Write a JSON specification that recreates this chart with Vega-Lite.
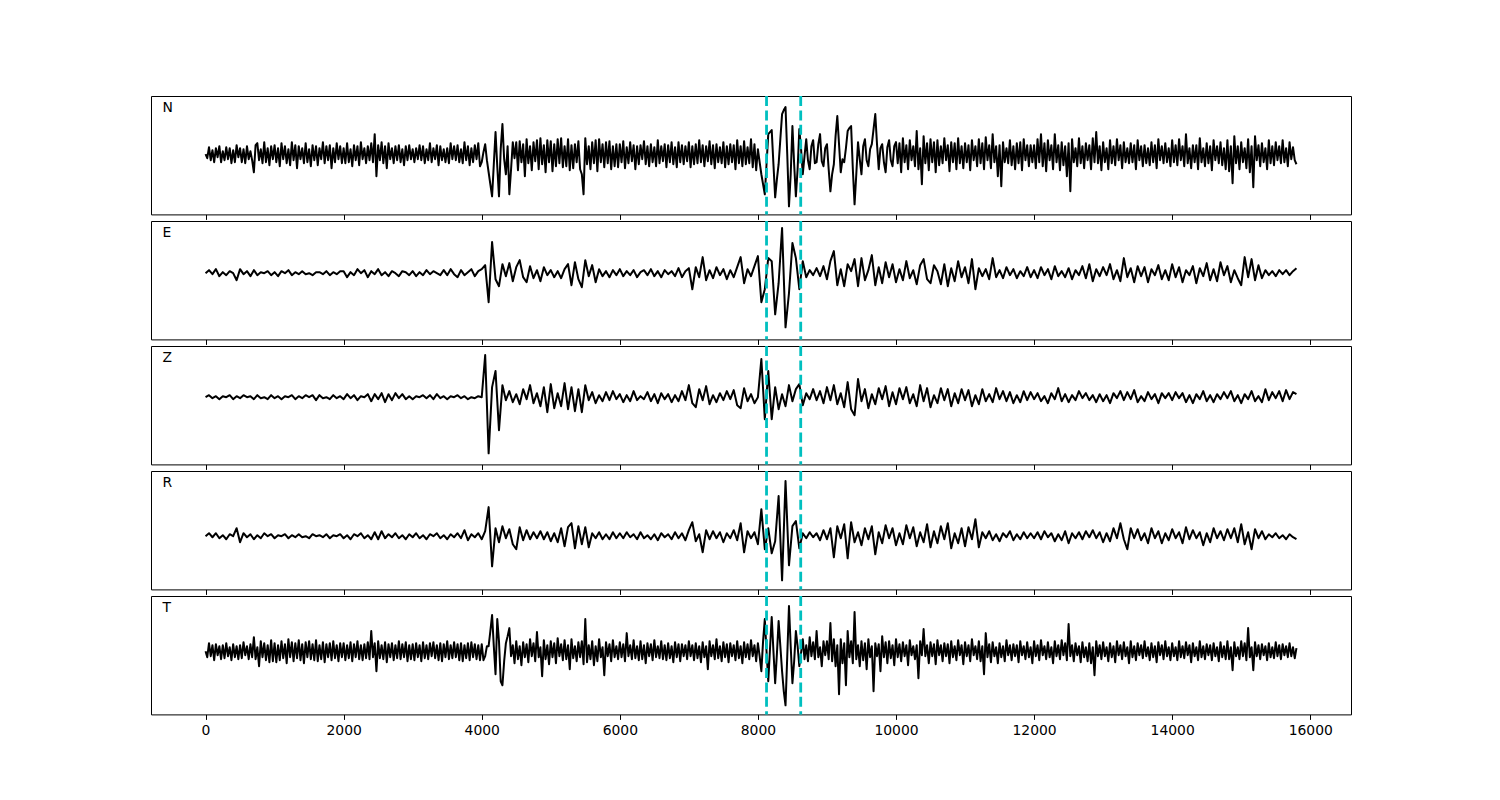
{
"$schema": "https://vega.github.io/schema/vega-lite/v6.json",
"padding": {"left": 150, "top": 94, "right": 0, "bottom": 0},
"background": "white",
"datasets": {
"picks": [{"pick": 8125}, {"pick": 8620}],
"wave": [
{"t":0,"N":0,"E":0,"Z":0,"R":0,"T":0},
{"t":50,"N":7,"E":3,"Z":2,"R":3,"T":8},
{"t":100,"N":4,"E":-1,"Z":-1,"R":-1,"T":6},
{"t":150,"N":6,"E":4,"Z":1,"R":3,"T":7},
{"t":200,"N":8,"E":-3,"Z":-2,"R":-2,"T":5},
{"t":250,"N":3,"E":1,"Z":1,"R":1,"T":6},
{"t":300,"N":7,"E":-2,"Z":0,"R":-3,"T":8},
{"t":350,"N":6,"E":2,"Z":2,"R":2,"T":4},
{"t":400,"N":4,"E":0,"Z":-2,"R":0,"T":7},
{"t":450,"N":9,"E":-7,"Z":1,"R":8,"T":5},
{"t":500,"N":6,"E":4,"Z":-1,"R":-6,"T":6},
{"t":550,"N":5,"E":-1,"Z":2,"R":3,"T":9},
{"t":600,"N":8,"E":2,"Z":0,"R":-1,"T":5},
{"t":650,"N":3,"E":-3,"Z":1,"R":2,"T":7},
{"t":700,"N":-18,"E":3,"Z":-2,"R":-3,"T":14},
{"t":750,"N":11,"E":-2,"Z":2,"R":1,"T":4},
{"t":800,"N":5,"E":1,"Z":-1,"R":-2,"T":10},
{"t":850,"N":12,"E":0,"Z":0,"R":3,"T":8},
{"t":900,"N":6,"E":2,"Z":-2,"R":0,"T":6},
{"t":950,"N":8,"E":-2,"Z":2,"R":2,"T":11},
{"t":1000,"N":9,"E":1,"Z":-1,"R":-2,"T":8},
{"t":1050,"N":6,"E":-3,"Z":1,"R":1,"T":6},
{"t":1100,"N":11,"E":2,"Z":-2,"R":0,"T":10},
{"t":1150,"N":8,"E":0,"Z":1,"R":2,"T":7},
{"t":1200,"N":5,"E":3,"Z":0,"R":-2,"T":12},
{"t":1250,"N":12,"E":-2,"Z":2,"R":1,"T":9},
{"t":1300,"N":9,"E":1,"Z":-2,"R":-1,"T":8},
{"t":1350,"N":8,"E":-1,"Z":1,"R":2,"T":11},
{"t":1400,"N":6,"E":2,"Z":-1,"R":-1,"T":7},
{"t":1450,"N":11,"E":-1,"Z":2,"R":0,"T":9},
{"t":1500,"N":5,"E":0,"Z":0,"R":-2,"T":10},
{"t":1550,"N":9,"E":-2,"Z":2,"R":2,"T":7},
{"t":1600,"N":8,"E":1,"Z":-3,"R":0,"T":11},
{"t":1650,"N":6,"E":1,"Z":2,"R":1,"T":6},
{"t":1700,"N":12,"E":-1,"Z":-1,"R":-1,"T":9},
{"t":1750,"N":8,"E":2,"Z":0,"R":2,"T":7},
{"t":1800,"N":9,"E":-2,"Z":-2,"R":-2,"T":8},
{"t":1850,"N":6,"E":1,"Z":2,"R":1,"T":10},
{"t":1900,"N":11,"E":-1,"Z":-1,"R":0,"T":6},
{"t":1950,"N":8,"E":2,"Z":1,"R":2,"T":8},
{"t":2000,"N":6,"E":2,"Z":-2,"R":-2,"T":8},
{"t":2050,"N":11,"E":-4,"Z":3,"R":1,"T":6},
{"t":2100,"N":5,"E":1,"Z":-1,"R":-3,"T":9},
{"t":2150,"N":9,"E":-2,"Z":2,"R":2,"T":7},
{"t":2200,"N":8,"E":4,"Z":-3,"R":0,"T":10},
{"t":2250,"N":12,"E":0,"Z":1,"R":3,"T":6},
{"t":2300,"N":6,"E":3,"Z":0,"R":-2,"T":7},
{"t":2350,"N":8,"E":-4,"Z":3,"R":1,"T":9},
{"t":2400,"N":11,"E":2,"Z":-4,"R":-3,"T":20},
{"t":2450,"N":20,"E":-1,"Z":3,"R":4,"T":8},
{"t":2500,"N":9,"E":4,"Z":-2,"R":-3,"T":10},
{"t":2550,"N":12,"E":-2,"Z":4,"R":5,"T":6},
{"t":2600,"N":8,"E":1,"Z":-5,"R":-2,"T":9},
{"t":2650,"N":11,"E":-3,"Z":3,"R":2,"T":7},
{"t":2700,"N":6,"E":2,"Z":-3,"R":-1,"T":8},
{"t":2750,"N":8,"E":0,"Z":4,"R":3,"T":6},
{"t":2800,"N":9,"E":-3,"Z":-1,"R":-2,"T":10},
{"t":2850,"N":5,"E":2,"Z":3,"R":1,"T":7},
{"t":2900,"N":8,"E":1,"Z":-2,"R":-3,"T":9},
{"t":2950,"N":9,"E":-2,"Z":1,"R":2,"T":6},
{"t":3000,"N":5,"E":2,"Z":-2,"R":-1,"T":7},
{"t":3050,"N":6,"E":-3,"Z":1,"R":3,"T":8},
{"t":3100,"N":9,"E":1,"Z":0,"R":-2,"T":6},
{"t":3150,"N":8,"E":-2,"Z":2,"R":1,"T":9},
{"t":3200,"N":5,"E":3,"Z":-1,"R":-3,"T":6},
{"t":3250,"N":11,"E":-1,"Z":2,"R":2,"T":8},
{"t":3300,"N":6,"E":2,"Z":-2,"R":0,"T":9},
{"t":3350,"N":9,"E":0,"Z":3,"R":3,"T":6},
{"t":3400,"N":8,"E":-2,"Z":-1,"R":-2,"T":8},
{"t":3450,"N":5,"E":3,"Z":1,"R":1,"T":7},
{"t":3500,"N":6,"E":-2,"Z":-2,"R":-3,"T":10},
{"t":3550,"N":11,"E":4,"Z":1,"R":2,"T":6},
{"t":3600,"N":8,"E":-1,"Z":0,"R":-1,"T":9},
{"t":3650,"N":9,"E":-4,"Z":2,"R":3,"T":7},
{"t":3700,"N":5,"E":3,"Z":-1,"R":-2,"T":8},
{"t":3750,"N":12,"E":-2,"Z":1,"R":6,"T":6},
{"t":3800,"N":8,"E":1,"Z":-2,"R":-4,"T":8},
{"t":3850,"N":6,"E":4,"Z":0,"R":2,"T":9},
{"t":3900,"N":9,"E":-3,"Z":-1,"R":-1,"T":7},
{"t":3950,"N":11,"E":2,"Z":1,"R":3,"T":6},
{"t":4000,"N":-8,"E":4,"Z":0,"R":-3,"T":7},
{"t":4050,"N":10,"E":8,"Z":42,"R":5,"T":-5},
{"t":4100,"N":-18,"E":-29,"Z":-56,"R":29,"T":5},
{"t":4150,"N":-42,"E":31,"Z":10,"R":-30,"T":36},
{"t":4200,"N":22,"E":-6,"Z":26,"R":8,"T":-23},
{"t":4250,"N":-42,"E":-13,"Z":-33,"R":-6,"T":10},
{"t":4300,"N":30,"E":9,"Z":12,"R":10,"T":-34},
{"t":4350,"N":-20,"E":-3,"Z":-3,"R":-2,"T":8},
{"t":4400,"N":-40,"E":10,"Z":6,"R":7,"T":23},
{"t":4450,"N":12,"E":-8,"Z":-5,"R":-8,"T":6},
{"t":4500,"N":12,"E":6,"Z":3,"R":-13,"T":10},
{"t":4550,"N":13,"E":13,"Z":-7,"R":9,"T":5},
{"t":4600,"N":10,"E":-4,"Z":8,"R":-4,"T":9},
{"t":4650,"N":15,"E":-9,"Z":-2,"R":6,"T":7},
{"t":4700,"N":8,"E":7,"Z":12,"R":-3,"T":12},
{"t":4750,"N":12,"E":-5,"Z":-6,"R":4,"T":8},
{"t":4800,"N":14,"E":3,"Z":4,"R":-2,"T":19},
{"t":4850,"N":16,"E":-8,"Z":-9,"R":5,"T":4},
{"t":4900,"N":9,"E":6,"Z":10,"R":-3,"T":11},
{"t":4950,"N":14,"E":-2,"Z":-15,"R":4,"T":6},
{"t":5000,"N":13,"E":3,"Z":13,"R":-5,"T":10},
{"t":5050,"N":10,"E":-4,"Z":-11,"R":3,"T":8},
{"t":5100,"N":15,"E":2,"Z":4,"R":-6,"T":13},
{"t":5150,"N":16,"E":-5,"Z":-9,"R":8,"T":7},
{"t":5200,"N":8,"E":4,"Z":14,"R":-10,"T":11},
{"t":5250,"N":15,"E":9,"Z":-12,"R":9,"T":6},
{"t":5300,"N":9,"E":-12,"Z":10,"R":13,"T":12},
{"t":5350,"N":10,"E":11,"Z":-14,"R":-12,"T":5},
{"t":5400,"N":13,"E":-6,"Z":8,"R":10,"T":9},
{"t":5450,"N":-20,"E":-14,"Z":-15,"R":-8,"T":10},
{"t":5500,"N":16,"E":13,"Z":12,"R":9,"T":32},
{"t":5550,"N":8,"E":-3,"Z":-3,"R":-11,"T":6},
{"t":5600,"N":12,"E":8,"Z":5,"R":3,"T":10},
{"t":5650,"N":14,"E":-9,"Z":-6,"R":-2,"T":5},
{"t":5700,"N":15,"E":4,"Z":2,"R":4,"T":12},
{"t":5750,"N":10,"E":-3,"Z":-4,"R":-3,"T":4},
{"t":5800,"N":12,"E":2,"Z":5,"R":2,"T":9},
{"t":5850,"N":13,"E":-4,"Z":-3,"R":-3,"T":7},
{"t":5900,"N":8,"E":3,"Z":6,"R":4,"T":11},
{"t":5950,"N":10,"E":-2,"Z":-2,"R":-2,"T":5},
{"t":6000,"N":10,"E":4,"Z":3,"R":3,"T":9},
{"t":6050,"N":13,"E":-3,"Z":-5,"R":-2,"T":7},
{"t":6100,"N":7,"E":2,"Z":2,"R":4,"T":18},
{"t":6150,"N":12,"E":-2,"Z":-4,"R":-1,"T":6},
{"t":6200,"N":9,"E":3,"Z":6,"R":2,"T":11},
{"t":6250,"N":8,"E":-4,"Z":-3,"R":-3,"T":5},
{"t":6300,"N":9,"E":1,"Z":1,"R":4,"T":10},
{"t":6350,"N":13,"E":3,"Z":-2,"R":-2,"T":6},
{"t":6400,"N":8,"E":-2,"Z":5,"R":1,"T":8},
{"t":6450,"N":10,"E":4,"Z":-4,"R":-3,"T":7},
{"t":6500,"N":7,"E":-3,"Z":3,"R":2,"T":11},
{"t":6550,"N":14,"E":2,"Z":-6,"R":-4,"T":5},
{"t":6600,"N":8,"E":-4,"Z":4,"R":3,"T":10},
{"t":6650,"N":10,"E":3,"Z":-2,"R":-1,"T":6},
{"t":6700,"N":9,"E":-1,"Z":3,"R":2,"T":8},
{"t":6750,"N":12,"E":2,"Z":-5,"R":-3,"T":5},
{"t":6800,"N":7,"E":-3,"Z":2,"R":4,"T":9},
{"t":6850,"N":12,"E":5,"Z":-4,"R":-2,"T":7},
{"t":6900,"N":9,"E":-4,"Z":6,"R":3,"T":7},
{"t":6950,"N":8,"E":2,"Z":-3,"R":-4,"T":6},
{"t":7000,"N":12,"E":5,"Z":12,"R":6,"T":10},
{"t":7050,"N":8,"E":-16,"Z":-6,"R":14,"T":6},
{"t":7100,"N":10,"E":6,"Z":-10,"R":-5,"T":8},
{"t":7150,"N":14,"E":-4,"Z":8,"R":2,"T":5},
{"t":7200,"N":9,"E":16,"Z":-3,"R":-16,"T":9},
{"t":7250,"N":8,"E":-7,"Z":11,"R":6,"T":5},
{"t":7300,"N":13,"E":3,"Z":-7,"R":-3,"T":10},
{"t":7350,"N":9,"E":-5,"Z":2,"R":5,"T":6},
{"t":7400,"N":10,"E":6,"Z":-5,"R":-2,"T":12},
{"t":7450,"N":7,"E":-2,"Z":4,"R":4,"T":5},
{"t":7500,"N":12,"E":4,"Z":-3,"R":-6,"T":9},
{"t":7550,"N":8,"E":-6,"Z":6,"R":3,"T":7},
{"t":7600,"N":10,"E":3,"Z":-2,"R":-2,"T":8},
{"t":7650,"N":9,"E":-4,"Z":7,"R":6,"T":6},
{"t":7700,"N":14,"E":6,"Z":-8,"R":-4,"T":10},
{"t":7750,"N":8,"E":16,"Z":-11,"R":13,"T":5},
{"t":7800,"N":13,"E":-10,"Z":9,"R":-16,"T":9},
{"t":7850,"N":7,"E":4,"Z":-4,"R":5,"T":7},
{"t":7900,"N":15,"E":-3,"Z":3,"R":-2,"T":11},
{"t":7950,"N":10,"E":7,"Z":-6,"R":4,"T":6},
{"t":8000,"N":5,"E":17,"Z":0,"R":-8,"T":8},
{"t":8050,"N":-20,"E":-29,"Z":38,"R":27,"T":-20},
{"t":8100,"N":-40,"E":-16,"Z":-22,"R":-13,"T":32},
{"t":8150,"N":20,"E":15,"Z":26,"R":8,"T":-30},
{"t":8200,"N":24,"E":12,"Z":-22,"R":-17,"T":34},
{"t":8250,"N":-43,"E":-41,"Z":10,"R":-5,"T":-32},
{"t":8300,"N":-10,"E":-10,"Z":-12,"R":40,"T":30},
{"t":8350,"N":40,"E":45,"Z":3,"R":-44,"T":-20},
{"t":8400,"N":47,"E":-54,"Z":-9,"R":55,"T":-54},
{"t":8450,"N":-52,"E":-20,"Z":12,"R":-29,"T":45},
{"t":8500,"N":28,"E":30,"Z":-4,"R":10,"T":-32},
{"t":8550,"N":-42,"E":15,"Z":8,"R":15,"T":20},
{"t":8600,"N":25,"E":-16,"Z":13,"R":-12,"T":-15},
{"t":8650,"N":-20,"E":12,"Z":-8,"R":3,"T":12},
{"t":8700,"N":15,"E":-4,"Z":4,"R":-2,"T":6},
{"t":8750,"N":-15,"E":3,"Z":-2,"R":4,"T":14},
{"t":8800,"N":14,"E":-2,"Z":8,"R":-1,"T":9},
{"t":8850,"N":-8,"E":5,"Z":-3,"R":3,"T":20},
{"t":8900,"N":20,"E":-3,"Z":6,"R":-4,"T":4},
{"t":8950,"N":-12,"E":7,"Z":-6,"R":6,"T":10},
{"t":9000,"N":10,"E":-6,"Z":10,"R":-3,"T":10},
{"t":9050,"N":-37,"E":12,"Z":-3,"R":8,"T":28},
{"t":9100,"N":-10,"E":22,"Z":12,"R":-21,"T":12},
{"t":9150,"N":38,"E":-12,"Z":-7,"R":10,"T":6},
{"t":9200,"N":-18,"E":4,"Z":4,"R":-2,"T":12},
{"t":9250,"N":-8,"E":-13,"Z":-10,"R":12,"T":8},
{"t":9300,"N":23,"E":9,"Z":15,"R":-22,"T":20},
{"t":9350,"N":28,"E":2,"Z":-12,"R":14,"T":10},
{"t":9400,"N":-50,"E":14,"Z":-18,"R":-6,"T":39},
{"t":9450,"N":12,"E":-13,"Z":18,"R":4,"T":6},
{"t":9500,"N":-20,"E":15,"Z":-4,"R":-9,"T":10},
{"t":9550,"N":15,"E":-7,"Z":8,"R":8,"T":8},
{"t":9600,"N":-12,"E":3,"Z":-11,"R":-3,"T":12},
{"t":9650,"N":10,"E":18,"Z":3,"R":10,"T":5},
{"t":9700,"N":40,"E":-12,"Z":-7,"R":-18,"T":8},
{"t":9750,"N":-15,"E":6,"Z":9,"R":4,"T":7},
{"t":9800,"N":10,"E":-10,"Z":-2,"R":-7,"T":15},
{"t":9850,"N":-18,"E":11,"Z":11,"R":11,"T":9},
{"t":9900,"N":14,"E":-4,"Z":-9,"R":-2,"T":10},
{"t":9950,"N":-12,"E":9,"Z":5,"R":8,"T":6},
{"t":10000,"N":12,"E":-9,"Z":-7,"R":-9,"T":12},
{"t":10050,"N":11,"E":4,"Z":9,"R":3,"T":7},
{"t":10100,"N":16,"E":-7,"Z":-2,"R":-8,"T":9},
{"t":10150,"N":9,"E":12,"Z":10,"R":11,"T":6},
{"t":10200,"N":14,"E":-5,"Z":-6,"R":-2,"T":11},
{"t":10250,"N":8,"E":3,"Z":3,"R":9,"T":5},
{"t":10300,"N":23,"E":-11,"Z":-9,"R":-10,"T":6},
{"t":10350,"N":6,"E":8,"Z":12,"R":4,"T":10},
{"t":10400,"N":18,"E":14,"Z":-4,"R":-6,"T":22},
{"t":10450,"N":11,"E":-6,"Z":9,"R":12,"T":6},
{"t":10500,"N":15,"E":-10,"Z":-10,"R":-11,"T":9},
{"t":10550,"N":12,"E":8,"Z":2,"R":5,"T":7},
{"t":10600,"N":14,"E":2,"Z":-6,"R":-7,"T":11},
{"t":10650,"N":8,"E":-11,"Z":9,"R":10,"T":6},
{"t":10700,"N":16,"E":9,"Z":-3,"R":-3,"T":8},
{"t":10750,"N":9,"E":-13,"Z":8,"R":13,"T":7},
{"t":10800,"N":12,"E":5,"Z":-9,"R":-12,"T":10},
{"t":10850,"N":11,"E":-8,"Z":4,"R":3,"T":5},
{"t":10900,"N":16,"E":12,"Z":-6,"R":-7,"T":11},
{"t":10950,"N":8,"E":-4,"Z":8,"R":8,"T":6},
{"t":11000,"N":11,"E":6,"Z":-3,"R":-10,"T":9},
{"t":11050,"N":9,"E":-10,"Z":7,"R":9,"T":6},
{"t":11100,"N":14,"E":14,"Z":-9,"R":-3,"T":12},
{"t":11150,"N":8,"E":-16,"Z":2,"R":17,"T":5},
{"t":11200,"N":15,"E":5,"Z":-7,"R":-11,"T":10},
{"t":11250,"N":11,"E":-3,"Z":8,"R":4,"T":5},
{"t":11300,"N":17,"E":4,"Z":-4,"R":-2,"T":18},
{"t":11350,"N":9,"E":-6,"Z":3,"R":5,"T":7},
{"t":11400,"N":20,"E":15,"Z":-5,"R":-4,"T":9},
{"t":11450,"N":8,"E":-4,"Z":9,"R":2,"T":4},
{"t":11500,"N":9,"E":3,"Z":-2,"R":-5,"T":8},
{"t":11550,"N":12,"E":-5,"Z":6,"R":3,"T":5},
{"t":11600,"N":6,"E":6,"Z":-4,"R":-1,"T":11},
{"t":11650,"N":14,"E":-2,"Z":5,"R":5,"T":6},
{"t":11700,"N":8,"E":4,"Z":-6,"R":-4,"T":7},
{"t":11750,"N":11,"E":-5,"Z":2,"R":2,"T":6},
{"t":11800,"N":12,"E":2,"Z":-5,"R":-3,"T":10},
{"t":11850,"N":15,"E":-3,"Z":6,"R":4,"T":5},
{"t":11900,"N":9,"E":6,"Z":-3,"R":-2,"T":9},
{"t":11950,"N":9,"E":-4,"Z":5,"R":3,"T":4},
{"t":12000,"N":9,"E":3,"Z":-2,"R":-2,"T":10},
{"t":12050,"N":15,"E":-5,"Z":4,"R":4,"T":6},
{"t":12100,"N":20,"E":6,"Z":-4,"R":-3,"T":11},
{"t":12150,"N":11,"E":-2,"Z":1,"R":5,"T":5},
{"t":12200,"N":14,"E":4,"Z":-6,"R":-1,"T":9},
{"t":12250,"N":9,"E":-6,"Z":4,"R":3,"T":4},
{"t":12300,"N":20,"E":7,"Z":-2,"R":-5,"T":10},
{"t":12350,"N":9,"E":-3,"Z":9,"R":2,"T":6},
{"t":12400,"N":12,"E":2,"Z":-4,"R":-4,"T":11},
{"t":12450,"N":8,"E":-4,"Z":3,"R":5,"T":8},
{"t":12500,"N":11,"E":5,"Z":-5,"R":-7,"T":27},
{"t":12550,"N":15,"E":-6,"Z":2,"R":3,"T":6},
{"t":12600,"N":6,"E":3,"Z":-3,"R":-2,"T":8},
{"t":12650,"N":16,"E":-2,"Z":6,"R":4,"T":5},
{"t":12700,"N":8,"E":7,"Z":-1,"R":-3,"T":9},
{"t":12750,"N":11,"E":-5,"Z":4,"R":5,"T":4},
{"t":12800,"N":9,"E":9,"Z":-3,"R":-1,"T":8},
{"t":12850,"N":16,"E":-8,"Z":2,"R":6,"T":4},
{"t":12900,"N":22,"E":4,"Z":-5,"R":-2,"T":10},
{"t":12950,"N":8,"E":-3,"Z":3,"R":4,"T":6},
{"t":13000,"N":12,"E":6,"Z":-4,"R":-6,"T":9},
{"t":13050,"N":6,"E":-2,"Z":2,"R":3,"T":4},
{"t":13100,"N":14,"E":9,"Z":-6,"R":-5,"T":8},
{"t":13150,"N":8,"E":-6,"Z":4,"R":8,"T":5},
{"t":13200,"N":15,"E":3,"Z":-1,"R":-2,"T":10},
{"t":13250,"N":9,"E":-8,"Z":6,"R":13,"T":6},
{"t":13300,"N":12,"E":15,"Z":-3,"R":-3,"T":9},
{"t":13350,"N":6,"E":-4,"Z":5,"R":-13,"T":4},
{"t":13400,"N":11,"E":5,"Z":-2,"R":8,"T":10},
{"t":13450,"N":9,"E":-9,"Z":7,"R":-2,"T":5},
{"t":13500,"N":14,"E":7,"Z":-5,"R":7,"T":8},
{"t":13550,"N":8,"E":-3,"Z":1,"R":-4,"T":6},
{"t":13600,"N":9,"E":6,"Z":-4,"R":3,"T":10},
{"t":13650,"N":6,"E":-9,"Z":5,"R":-7,"T":4},
{"t":13700,"N":12,"E":4,"Z":-2,"R":8,"T":8},
{"t":13750,"N":9,"E":-2,"Z":3,"R":-2,"T":5},
{"t":13800,"N":15,"E":8,"Z":-6,"R":5,"T":9},
{"t":13850,"N":8,"E":-6,"Z":4,"R":-7,"T":6},
{"t":13900,"N":11,"E":3,"Z":-1,"R":3,"T":10},
{"t":13950,"N":6,"E":-7,"Z":4,"R":-4,"T":4},
{"t":14000,"N":14,"E":9,"Z":-3,"R":7,"T":8},
{"t":14050,"N":9,"E":-4,"Z":5,"R":-2,"T":4},
{"t":14100,"N":15,"E":6,"Z":-1,"R":4,"T":10},
{"t":14150,"N":8,"E":-9,"Z":4,"R":-7,"T":5},
{"t":14200,"N":20,"E":3,"Z":-5,"R":9,"T":9},
{"t":14250,"N":6,"E":-2,"Z":2,"R":-3,"T":6},
{"t":14300,"N":9,"E":7,"Z":-6,"R":6,"T":8},
{"t":14350,"N":9,"E":-10,"Z":3,"R":-2,"T":4},
{"t":14400,"N":16,"E":5,"Z":-2,"R":4,"T":10},
{"t":14450,"N":6,"E":-3,"Z":6,"R":-9,"T":5},
{"t":14500,"N":11,"E":10,"Z":-4,"R":3,"T":7},
{"t":14550,"N":8,"E":-7,"Z":2,"R":-6,"T":6},
{"t":14600,"N":14,"E":4,"Z":-5,"R":8,"T":8},
{"t":14650,"N":8,"E":-8,"Z":3,"R":-2,"T":4},
{"t":14700,"N":12,"E":11,"Z":-2,"R":5,"T":9},
{"t":14750,"N":6,"E":-2,"Z":5,"R":-4,"T":5},
{"t":14800,"N":14,"E":7,"Z":-1,"R":7,"T":10},
{"t":14850,"N":8,"E":-9,"Z":6,"R":-2,"T":4},
{"t":14900,"N":18,"E":3,"Z":-4,"R":8,"T":9},
{"t":14950,"N":8,"E":-5,"Z":2,"R":-6,"T":4},
{"t":15000,"N":12,"E":-12,"Z":-6,"R":12,"T":10},
{"t":15050,"N":6,"E":16,"Z":3,"R":-8,"T":8},
{"t":15100,"N":15,"E":-4,"Z":-2,"R":4,"T":23},
{"t":15150,"N":8,"E":14,"Z":6,"R":-13,"T":4},
{"t":15200,"N":18,"E":-7,"Z":-4,"R":7,"T":9},
{"t":15250,"N":9,"E":8,"Z":1,"R":-2,"T":6},
{"t":15300,"N":11,"E":-5,"Z":-5,"R":5,"T":7},
{"t":15350,"N":6,"E":3,"Z":8,"R":-3,"T":5},
{"t":15400,"N":14,"E":-2,"Z":-3,"R":2,"T":8},
{"t":15450,"N":8,"E":2,"Z":5,"R":-1,"T":4},
{"t":15500,"N":12,"E":-3,"Z":-1,"R":3,"T":9},
{"t":15550,"N":8,"E":3,"Z":6,"R":-2,"T":6},
{"t":15600,"N":14,"E":-1,"Z":-4,"R":1,"T":7},
{"t":15650,"N":6,"E":3,"Z":7,"R":-3,"T":5},
{"t":15700,"N":12,"E":-2,"Z":-2,"R":2,"T":8},
{"t":15750,"N":7,"E":2,"Z":5,"R":-1,"T":4},
{"t":15800,"N":-10,"E":5,"Z":3,"R":-3,"T":3},
{"t":25,"N":-4,"T":-6},{"t":75,"N":-6,"T":-5},{"t":125,"N":-8,"T":-9},{"t":175,"N":-3,"T":-4},{"t":225,"N":-8,"T":-8},
{"t":275,"N":-6,"T":-7},{"t":325,"N":-5,"T":-5},{"t":375,"N":-9,"T":-9},{"t":425,"N":-8,"T":-6},{"t":475,"N":-3,"T":-8},
{"t":525,"N":-8,"T":-7},{"t":575,"N":-9,"T":-4},{"t":625,"N":-5,"T":-8},{"t":675,"N":-6,"T":-6},{"t":725,"N":9,"T":-8},
{"t":775,"N":-6,"T":-15},{"t":825,"N":-9,"T":-6},{"t":875,"N":-8,"T":-9},{"t":925,"N":-11,"T":-11},{"t":975,"N":-5,"T":-10},
{"t":1025,"N":-8,"T":-11},{"t":1075,"N":-12,"T":-9},{"t":1125,"N":-5,"T":-7},{"t":1175,"N":-9,"T":-12},{"t":1225,"N":-11,"T":-6},
{"t":1275,"N":-6,"T":-10},{"t":1325,"N":-14,"T":-7},{"t":1375,"N":-5,"T":-9},{"t":1425,"N":-9,"T":-12},{"t":1475,"N":-8,"T":-6},
{"t":1525,"N":-12,"T":-8},{"t":1575,"N":-6,"T":-9},{"t":1625,"N":-11,"T":-10},{"t":1675,"N":-5,"T":-8},{"t":1725,"N":-9,"T":-11},
{"t":1775,"N":-6,"T":-6},{"t":1825,"N":-14,"T":-9},{"t":1875,"N":-8,"T":-7},{"t":1925,"N":-5,"T":-10},{"t":1975,"N":-9,"T":-6},
{"t":2025,"N":-9,"T":-9},{"t":2075,"N":-8,"T":-7},{"t":2125,"N":-12,"T":-10},{"t":2175,"N":-6,"T":-6},{"t":2225,"N":-11,"T":-8},
{"t":2275,"N":-5,"T":-9},{"t":2325,"N":-9,"T":-7},{"t":2375,"N":-6,"T":-8},{"t":2425,"N":-8,"T":-6},{"t":2475,"N":-22,"T":-20},
{"t":2525,"N":-6,"T":-7},{"t":2575,"N":-9,"T":-8},{"t":2625,"N":-14,"T":-11},{"t":2675,"N":-5,"T":-6},{"t":2725,"N":-9,"T":-9},
{"t":2775,"N":-6,"T":-7},{"t":2825,"N":-8,"T":-8},{"t":2875,"N":-11,"T":-6},{"t":2925,"N":-6,"T":-10},{"t":2975,"N":-5,"T":-8},
{"t":3025,"N":-8,"T":-9},{"t":3075,"N":-5,"T":-6},{"t":3125,"N":-6,"T":-10},{"t":3175,"N":-9,"T":-7},{"t":3225,"N":-6,"T":-8},
{"t":3275,"N":-8,"T":-5},{"t":3325,"N":-5,"T":-7},{"t":3375,"N":-11,"T":-9},{"t":3425,"N":-6,"T":-10},{"t":3475,"N":-8,"T":-6},
{"t":3525,"N":-9,"T":-8},{"t":3575,"N":-5,"T":-7},{"t":3625,"N":-6,"T":-6},{"t":3675,"N":-8,"T":-9},{"t":3725,"N":-9,"T":-10},
{"t":3775,"N":-6,"T":-7},{"t":3825,"N":-11,"T":-9},{"t":3875,"N":-8,"T":-6},{"t":3925,"N":-5,"T":-8},{"t":3975,"N":-12,"T":-9},
{"t":4025,"N":2,"T":-9},{"t":4075,"N":-6,"T":5},{"t":4125,"N":-30,"T":20},{"t":4175,"N":-10,"T":5},{"t":4225,"N":-12,"T":32},
{"t":4275,"N":5,"T":-30},{"t":4325,"N":-5,"T":-10},{"t":4375,"N":8,"T":15},{"t":4425,"N":-15,"T":-5},{"t":4475,"N":-4,"T":-12},
{"t":4525,"N":-16,"T":-8},{"t":4575,"N":-8,"T":-14},{"t":4625,"N":-22,"T":-6},{"t":4675,"N":-9,"T":-11},{"t":4725,"N":-16,"T":-5},
{"t":4775,"N":-7,"T":-10},{"t":4825,"N":-15,"T":-6},{"t":4875,"N":-10,"T":-25},{"t":4925,"N":-18,"T":-8},{"t":4975,"N":-8,"T":-13},
{"t":5025,"N":-17,"T":-6},{"t":5075,"N":-12,"T":-12},{"t":5125,"N":-9,"T":-5},{"t":5175,"N":-13,"T":-9},{"t":5225,"N":-12,"T":-8},
{"t":5275,"N":-16,"T":-18},{"t":5325,"N":-14,"T":-7},{"t":5375,"N":-8,"T":-10},{"t":5425,"N":-15,"T":-6},{"t":5475,"N":-40,"T":-13},
{"t":5525,"N":-10,"T":-11},{"t":5575,"N":-15,"T":-8},{"t":5625,"N":-9,"T":-14},{"t":5675,"N":-17,"T":-10},{"t":5725,"N":-8,"T":-6},
{"t":5775,"N":-13,"T":-24},{"t":5825,"N":-9,"T":-5},{"t":5875,"N":-15,"T":-10},{"t":5925,"N":-12,"T":-6},{"t":5975,"N":-13,"T":-8},
{"t":6025,"N":-8,"T":-6},{"t":6075,"N":-14,"T":-10},{"t":6125,"N":-9,"T":-5},{"t":6175,"N":-7,"T":-8},{"t":6225,"N":-15,"T":-7},
{"t":6275,"N":-10,"T":-9},{"t":6325,"N":-5,"T":-8},{"t":6375,"N":-10,"T":-12},{"t":6425,"N":-12,"T":-5},{"t":6475,"N":-8,"T":-9},
{"t":6525,"N":-12,"T":-6},{"t":6575,"N":-9,"T":-7},{"t":6625,"N":-7,"T":-8},{"t":6675,"N":-13,"T":-9},{"t":6725,"N":-8,"T":-7},
{"t":6775,"N":-10,"T":-11},{"t":6825,"N":-13,"T":-6},{"t":6875,"N":-8,"T":-10},{"t":6925,"N":-10,"T":-5},{"t":6975,"N":-7,"T":-8},
{"t":7025,"N":-13,"T":-5},{"t":7075,"N":-10,"T":-9},{"t":7125,"N":-9,"T":-7},{"t":7175,"N":-8,"T":-11},{"t":7225,"N":-12,"T":-6},
{"t":7275,"N":-7,"T":-18},{"t":7325,"N":-10,"T":-5},{"t":7375,"N":-14,"T":-8},{"t":7425,"N":-8,"T":-7},{"t":7475,"N":-9,"T":-10},
{"t":7525,"N":-13,"T":-6},{"t":7575,"N":-10,"T":-11},{"t":7625,"N":-8,"T":-5},{"t":7675,"N":-15,"T":-9},{"t":7725,"N":-9,"T":-7},
{"t":7775,"N":-12,"T":-12},{"t":7825,"N":-10,"T":-6},{"t":7875,"N":-9,"T":-8},{"t":7925,"N":-13,"T":-5},{"t":7975,"N":-16,"T":-10},
{"t":8025,"N":-8,"T":-5},{"t":8075,"N":-30,"T":10},{"t":8125,"N":-10,"T":0},{"t":8175,"N":22,"T":2},{"t":8225,"N":-10,"T":0},
{"t":8275,"N":-25,"T":-3},{"t":8325,"N":15,"T":5},{"t":8375,"N":44,"T":-40},{"t":8425,"N":0,"T":-5},{"t":8475,"N":-20,"T":5},
{"t":8525,"N":-10,"T":-10},{"t":8575,"N":-15,"T":5},{"t":8625,"N":5,"T":-2},{"t":8675,"N":-2,"T":-8},{"t":8725,"N":-6,"T":-10},
{"t":8775,"N":8,"T":-5},{"t":8825,"N":-9,"T":-8},{"t":8875,"N":10,"T":-6},{"t":8925,"N":-7,"T":-15},{"t":8975,"N":6,"T":-4},
{"t":9025,"N":-15,"T":-8},{"t":9075,"N":-20,"T":-10},{"t":9125,"N":18,"T":-15},{"t":9175,"N":10,"T":-43},{"t":9225,"N":-5,"T":-12},
{"t":9275,"N":6,"T":-34},{"t":9325,"N":26,"T":-6},{"t":9375,"N":-15,"T":-12},{"t":9425,"N":-20,"T":-8},{"t":9475,"N":-5,"T":-15},
{"t":9525,"N":8,"T":-9},{"t":9575,"N":-6,"T":-18},{"t":9625,"N":5,"T":-6},{"t":9675,"N":25,"T":-40},{"t":9725,"N":10,"T":-5},
{"t":9775,"N":6,"T":-20},{"t":9825,"N":-8,"T":-6},{"t":9875,"N":7,"T":-12},{"t":9925,"N":-6,"T":-7},{"t":9975,"N":8,"T":-14},
{"t":10025,"N":-9,"T":-6},{"t":10075,"N":-18,"T":-10},{"t":10125,"N":-8,"T":-5},{"t":10175,"N":-15,"T":-14},{"t":10225,"N":-6,"T":-4},
{"t":10275,"N":-12,"T":-8},{"t":10325,"N":-15,"T":-27},{"t":10375,"N":-30,"T":-4},{"t":10425,"N":-9,"T":-5},{"t":10475,"N":-16,"T":-12},
{"t":10525,"N":-8,"T":-5},{"t":10575,"N":-18,"T":-13},{"t":10625,"N":-11,"T":-4},{"t":10675,"N":-9,"T":-10},{"t":10725,"N":-6,"T":-5},
{"t":10775,"N":-17,"T":-12},{"t":10825,"N":-8,"T":-6},{"t":10875,"N":-15,"T":-9},{"t":10925,"N":-9,"T":-4},{"t":10975,"N":-14,"T":-13},
{"t":11025,"N":-8,"T":-5},{"t":11075,"N":-16,"T":-10},{"t":11125,"N":-6,"T":-4},{"t":11175,"N":-12,"T":-8},{"t":11225,"N":-9,"T":-10},
{"t":11275,"N":-15,"T":-23},{"t":11325,"N":-6,"T":-6},{"t":11375,"N":-14,"T":-11},{"t":11425,"N":-8,"T":-5},{"t":11475,"N":-22,"T":-12},
{"t":11525,"N":-32,"T":-6},{"t":11575,"N":-8,"T":-10},{"t":11625,"N":-9,"T":-4},{"t":11675,"N":-11,"T":-9},{"t":11725,"N":-15,"T":-5},
{"t":11775,"N":-9,"T":-11},{"t":11825,"N":-16,"T":-4},{"t":11875,"N":-6,"T":-8},{"t":11925,"N":-12,"T":-6},{"t":11975,"N":-8,"T":-12},
{"t":12025,"N":-14,"T":-5},{"t":12075,"N":-8,"T":-9},{"t":12125,"N":-12,"T":-4},{"t":12175,"N":-17,"T":-8},{"t":12225,"N":-6,"T":-6},
{"t":12275,"N":-15,"T":-12},{"t":12325,"N":-8,"T":-5},{"t":12375,"N":-16,"T":-8},{"t":12425,"N":-11,"T":-4},{"t":12475,"N":-22,"T":-9},
{"t":12525,"N":-37,"T":-5},{"t":12575,"N":-8,"T":-10},{"t":12625,"N":-12,"T":-4},{"t":12675,"N":-9,"T":-11},{"t":12725,"N":-14,"T":-6},
{"t":12775,"N":-6,"T":-10},{"t":12825,"N":-15,"T":-12},{"t":12875,"N":-8,"T":-24},{"t":12925,"N":-9,"T":-5},{"t":12975,"N":-16,"T":-8},
{"t":13025,"N":-8,"T":-5},{"t":13075,"N":-15,"T":-10},{"t":13125,"N":-9,"T":-6},{"t":13175,"N":-11,"T":-11},{"t":13225,"N":-6,"T":-4},
{"t":13275,"N":-14,"T":-8},{"t":13325,"N":-8,"T":-5},{"t":13375,"N":-9,"T":-12},{"t":13425,"N":-8,"T":-6},{"t":13475,"N":-15,"T":-9},
{"t":13525,"N":-6,"T":-4},{"t":13575,"N":-12,"T":-7},{"t":13625,"N":-9,"T":-5},{"t":13675,"N":-11,"T":-9},{"t":13725,"N":-8,"T":-6},
{"t":13775,"N":-14,"T":-11},{"t":13825,"N":-6,"T":-4},{"t":13875,"N":-9,"T":-8},{"t":13925,"N":-8,"T":-5},{"t":13975,"N":-12,"T":-9},
{"t":14025,"N":-8,"T":-5},{"t":14075,"N":-11,"T":-9},{"t":14125,"N":-6,"T":-6},{"t":14175,"N":-12,"T":-7},{"t":14225,"N":-9,"T":-4},
{"t":14275,"N":-14,"T":-11},{"t":14325,"N":-8,"T":-5},{"t":14375,"N":-15,"T":-9},{"t":14425,"N":-8,"T":-6},{"t":14475,"N":-12,"T":-8},
{"t":14525,"N":-9,"T":-4},{"t":14575,"N":-16,"T":-9},{"t":14625,"N":-6,"T":-5},{"t":14675,"N":-9,"T":-10},{"t":14725,"N":-11,"T":-6},
{"t":14775,"N":-15,"T":-8},{"t":14825,"N":-17,"T":-8},{"t":14875,"N":-29,"T":-19},{"t":14925,"N":-9,"T":-5},{"t":14975,"N":-15,"T":-8},
{"t":15025,"N":-8,"T":-5},{"t":15075,"N":-14,"T":-9},{"t":15125,"N":-18,"T":-6},{"t":15175,"N":-33,"T":-19},{"t":15225,"N":-6,"T":-5},
{"t":15275,"N":-12,"T":-8},{"t":15325,"N":-8,"T":-4},{"t":15375,"N":-15,"T":-9},{"t":15425,"N":-9,"T":-6},{"t":15475,"N":-11,"T":-7},
{"t":15525,"N":-6,"T":-5},{"t":15575,"N":-9,"T":-8},{"t":15625,"N":-8,"T":-4},{"t":15675,"N":-12,"T":-6},{"t":15725,"N":-5,"T":-5},
{"t":15775,"N":-6,"T":-7}
]
},
"spacing": 6,
"bounds": "flush",
"vconcat": [
{
"width": 1200, "height": 118.4,
"layer": [
{"data": {"name": "wave"}, "mark": {"type": "line", "color": "black", "strokeWidth": 2, "strokeJoin": "round"},
 "encoding": {
  "x": {"field": "t", "type": "quantitative", "scale": {"domain": [-790, 16590], "nice": false, "zero": false},
        "axis": {"values": [0,2000,4000,6000,8000,10000,12000,14000,16000], "labels": false, "domain": false, "ticks": true, "tickSize": 5, "tickColor": "black", "tickWidth": 1, "grid": false, "title": null}},
  "y": {"field": "N", "type": "quantitative", "scale": {"domain": [-60, 58], "nice": false, "zero": false}, "axis": null}}},
{"data": {"name": "picks"}, "mark": {"type": "rule", "color": "#00bfbf", "strokeWidth": 2.8, "strokeDash": [10, 4.4]},
 "encoding": {"x": {"field": "pick", "type": "quantitative"}}},
{"data": {"values": [{"label": "N"}]}, "mark": {"type": "text", "align": "left", "baseline": "middle", "font": "DejaVu Sans", "fontSize": 13.9, "color": "black"},
 "encoding": {"text": {"field": "label"}, "x": {"datum": -623}, "y": {"datum": 46}}}
]
},
{
"width": 1200, "height": 118.4,
"layer": [
{"data": {"name": "wave"}, "transform": [{"filter": "isValid(datum.E)"}], "mark": {"type": "line", "color": "black", "strokeWidth": 2, "strokeJoin": "round"},
 "encoding": {
  "x": {"field": "t", "type": "quantitative", "scale": {"domain": [-790, 16590], "nice": false, "zero": false},
        "axis": {"values": [0,2000,4000,6000,8000,10000,12000,14000,16000], "labels": false, "domain": false, "ticks": true, "tickSize": 5, "tickColor": "black", "tickWidth": 1, "grid": false, "title": null}},
  "y": {"field": "E", "type": "quantitative", "scale": {"domain": [-66, 52], "nice": false, "zero": false}, "axis": null}}},
{"data": {"name": "picks"}, "mark": {"type": "rule", "color": "#00bfbf", "strokeWidth": 2.8, "strokeDash": [10, 4.4]},
 "encoding": {"x": {"field": "pick", "type": "quantitative"}}},
{"data": {"values": [{"label": "E"}]}, "mark": {"type": "text", "align": "left", "baseline": "middle", "font": "DejaVu Sans", "fontSize": 13.9, "color": "black"},
 "encoding": {"text": {"field": "label"}, "x": {"datum": -623}, "y": {"datum": 40}}}
]
},
{
"width": 1200, "height": 118.4,
"layer": [
{"data": {"name": "wave"}, "transform": [{"filter": "isValid(datum.Z)"}], "mark": {"type": "line", "color": "black", "strokeWidth": 2, "strokeJoin": "round"},
 "encoding": {
  "x": {"field": "t", "type": "quantitative", "scale": {"domain": [-790, 16590], "nice": false, "zero": false},
        "axis": {"values": [0,2000,4000,6000,8000,10000,12000,14000,16000], "labels": false, "domain": false, "ticks": true, "tickSize": 5, "tickColor": "black", "tickWidth": 1, "grid": false, "title": null}},
  "y": {"field": "Z", "type": "quantitative", "scale": {"domain": [-67, 51], "nice": false, "zero": false}, "axis": null}}},
{"data": {"name": "picks"}, "mark": {"type": "rule", "color": "#00bfbf", "strokeWidth": 2.8, "strokeDash": [10, 4.4]},
 "encoding": {"x": {"field": "pick", "type": "quantitative"}}},
{"data": {"values": [{"label": "Z"}]}, "mark": {"type": "text", "align": "left", "baseline": "middle", "font": "DejaVu Sans", "fontSize": 13.9, "color": "black"},
 "encoding": {"text": {"field": "label"}, "x": {"datum": -623}, "y": {"datum": 39}}}
]
},
{
"width": 1200, "height": 118.4,
"layer": [
{"data": {"name": "wave"}, "transform": [{"filter": "isValid(datum.R)"}], "mark": {"type": "line", "color": "black", "strokeWidth": 2, "strokeJoin": "round"},
 "encoding": {
  "x": {"field": "t", "type": "quantitative", "scale": {"domain": [-790, 16590], "nice": false, "zero": false},
        "axis": {"values": [0,2000,4000,6000,8000,10000,12000,14000,16000], "labels": false, "domain": false, "ticks": true, "tickSize": 5, "tickColor": "black", "tickWidth": 1, "grid": false, "title": null}},
  "y": {"field": "R", "type": "quantitative", "scale": {"domain": [-53, 65], "nice": false, "zero": false}, "axis": null}}},
{"data": {"name": "picks"}, "mark": {"type": "rule", "color": "#00bfbf", "strokeWidth": 2.8, "strokeDash": [10, 4.4]},
 "encoding": {"x": {"field": "pick", "type": "quantitative"}}},
{"data": {"values": [{"label": "R"}]}, "mark": {"type": "text", "align": "left", "baseline": "middle", "font": "DejaVu Sans", "fontSize": 13.9, "color": "black"},
 "encoding": {"text": {"field": "label"}, "x": {"datum": -623}, "y": {"datum": 53}}}
]
},
{
"width": 1200, "height": 118.4,
"layer": [
{"data": {"name": "wave"}, "mark": {"type": "line", "color": "black", "strokeWidth": 2, "strokeJoin": "round"},
 "encoding": {
  "x": {"field": "t", "type": "quantitative", "scale": {"domain": [-790, 16590], "nice": false, "zero": false},
        "axis": {"values": [0,2000,4000,6000,8000,10000,12000,14000,16000], "format": "d", "labels": true, "labelFont": "DejaVu Sans", "labelFontSize": 13.9, "labelColor": "black", "labelPadding": 4, "domain": false, "ticks": true, "tickSize": 5, "tickColor": "black", "tickWidth": 1, "grid": false, "title": null}},
  "y": {"field": "T", "type": "quantitative", "scale": {"domain": [-63, 55], "nice": false, "zero": false}, "axis": null}}},
{"data": {"name": "picks"}, "mark": {"type": "rule", "color": "#00bfbf", "strokeWidth": 2.8, "strokeDash": [10, 4.4]},
 "encoding": {"x": {"field": "pick", "type": "quantitative"}}},
{"data": {"values": [{"label": "T"}]}, "mark": {"type": "text", "align": "left", "baseline": "middle", "font": "DejaVu Sans", "fontSize": 13.9, "color": "black"},
 "encoding": {"text": {"field": "label"}, "x": {"datum": -623}, "y": {"datum": 43}}}
]
}
],
"config": {
 "view": {"stroke": "black", "strokeWidth": 1, "fill": "white"},
 "axis": {"grid": false}
}
}
